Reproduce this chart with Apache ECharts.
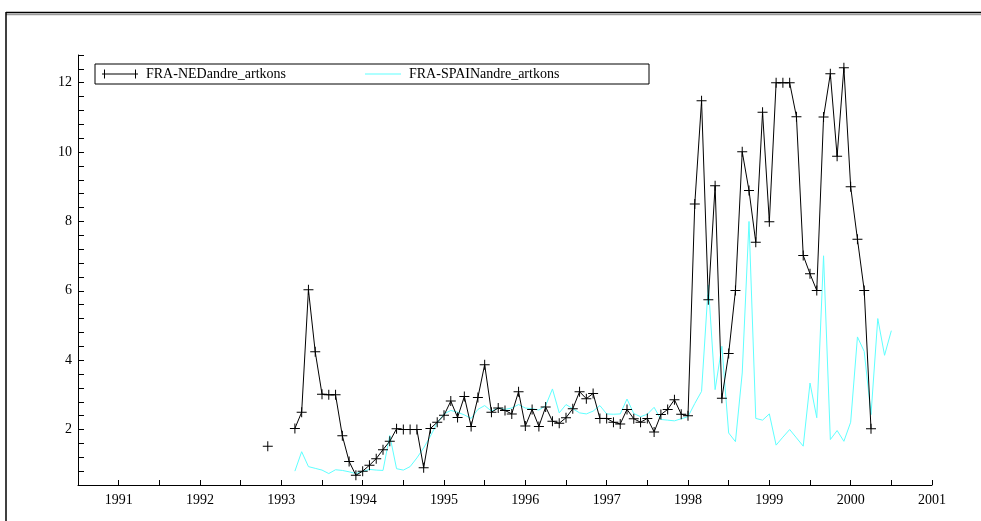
<!DOCTYPE html>
<html>
<head>
<meta charset="utf-8">
<script src="https://cdn.jsdelivr.net/npm/echarts@6/dist/echarts.min.js"></script>
<style>
html,body{margin:0;padding:0;background:#fff;}
#chart{width:981px;height:521px;}
</style>
</head>
<body>
<div id="chart"></div>
<script>
// Series names
const seriesNames = ['FRA-NEDandre_artkons', 'FRA-SPAINandre_artkons'];
// Monthly data: start [year, month]
const nedStart = [1992, 11];
const nedValues = [1.52, null, null, null, 2.03, 2.5, 6.03, 4.24, 3.02, 3.0, 3.0, 1.82, 1.08, 0.68,
  0.8, 0.97, 1.16, 1.42, 1.66, 2.02, 2.0, 2.0, 2.0, 0.9, 2.03, 2.21,
  2.41, 2.82, 2.35, 2.95, 2.09, 2.92, 3.87, 2.5, 2.62, 2.55, 2.45, 3.09,
  2.1, 2.58, 2.09, 2.65, 2.24, 2.18, 2.34, 2.6, 3.09, 2.89, 3.04, 2.32,
  2.32, 2.21, 2.16, 2.58, 2.31, 2.21, 2.32, 1.93, 2.43, 2.58, 2.86, 2.44,
  2.4, 8.5, 11.48, 5.74, 9.03, 2.9, 4.19, 6.01, 10.01, 8.89, 7.4, 11.15,
  7.99, 12.0, 12.0, 12.0, 11.02, 7.02, 6.49, 6.01, 11.01, 12.26, 9.88, 12.43,
  9.0, 7.49, 6.01, 2.02];
const spaStart = [1993, 3];
const spaValues = [0.8, 1.36, 0.93, 0.88, 0.83, 0.73, 0.84, 0.82, 0.78, 0.73,
  0.79, 0.85, 0.83, 0.82, 1.83, 0.87, 0.83, 0.93, 1.18, 1.47, 1.81, 2.19,
  2.45, 2.55, 2.5, 2.42, 2.32, 2.58, 2.69, 2.53, 2.62, 2.58, 2.62, 2.72,
  2.62, 2.6, 2.56, 2.69, 3.17, 2.48, 2.72, 2.6, 2.48, 2.45, 2.53, 2.69,
  2.45, 2.44, 2.45, 2.88, 2.46, 2.37, 2.44, 2.64, 2.29, 2.27, 2.25, 2.31,
  2.37, 2.75, 3.1, 6.17, 3.15, 4.4, 1.9, 1.65, 3.63, 8.0, 2.32, 2.27,
  2.45, 1.55, 1.78, 2.0, 1.76, 1.52, 3.34, 2.34, 7.01, 1.71, 1.97, 1.66,
  2.21, 4.67, 4.25, 2.43, 5.2, 4.14, 4.85];
// Axis ranges
const xMin = 1990.5, xMax = 2001, xStep = 0.5;
const yMin = 0.4, yMax = 12.8, yStep = 0.4, yLabelEvery = 2;

function toPairs(start, vals) {
  return vals.map((v, i) => {
    const m = start[1] - 1 + i;
    const yr = start[0] + Math.floor(m / 12) + (m % 12) / 12;
    return [yr, v];
  });
}

const font = '"Liberation Serif", "Times New Roman", serif';
const cyan = '#5fffff';
const crossPath = 'path://M0,4.5h10v1h-10z M4.5,0h1v10h-1z';
const legendCross = 'path://M0,4h36v1h-36z M2,0h1v9h-1z M33,0h1v9h-1z';
const legendLine = 'path://M0,0h36v1.2h-36z';

const chart = echarts.init(document.getElementById('chart'), null, {renderer: 'canvas'});
chart.setOption({
  backgroundColor: '#fff',
  animation: false,
  textStyle: {fontFamily: font},
  grid: {left: 78, right: 49, top: 55, bottom: 36, containLabel: false},
  legend: {
    left: 95, top: 64,
    orient: 'horizontal',
    borderColor: '#000', borderWidth: 1,
    padding: [3, 31, 3, 7],
    itemWidth: 36, itemHeight: 9, itemGap: 10,
    textStyle: {fontFamily: font, fontSize: 14, color: '#000', width: 209, lineHeight: 14, padding: [0, 0, 0, 3]},
    data: [
      {name: seriesNames[0], icon: legendCross, itemStyle: {color: '#000'}},
      {name: seriesNames[1], icon: legendLine, itemStyle: {color: cyan}}
    ]
  },
  xAxis: {
    type: 'value', min: xMin, max: xMax, interval: xStep,
    axisLine: {show: true, lineStyle: {color: '#000', width: 1}},
    axisTick: {show: true, inside: true, length: 5, lineStyle: {color: '#000'}},
    splitLine: {show: false},
    axisLabel: {
      color: '#000', fontFamily: font, fontSize: 14, margin: 8,
      formatter: v => Math.abs(v - Math.round(v)) < 1e-6 ? String(Math.round(v)) : ''
    }
  },
  yAxis: {
    type: 'value', min: yMin, max: yMax, interval: yStep,
    axisLine: {show: true, lineStyle: {color: '#000', width: 1}},
    axisTick: {show: true, inside: true, length: 6, lineStyle: {color: '#000'}},
    splitLine: {show: false},
    axisLabel: {
      color: '#000', fontFamily: font, fontSize: 14, margin: 6,
      formatter: v => Math.abs(v / yLabelEvery - Math.round(v / yLabelEvery)) < 1e-6 ? String(Math.round(v)) : ''
    }
  },
  series: [
    {
      name: seriesNames[0], type: 'line',
      data: toPairs(nedStart, nedValues),
      connectNulls: false,
      symbol: crossPath, symbolSize: [10, 10],
      showSymbol: true, showAllSymbol: true,
      itemStyle: {color: '#000'},
      lineStyle: {color: '#000', width: 1},
      z: 3
    },
    {
      name: seriesNames[1], type: 'line',
      data: toPairs(spaStart, spaValues),
      symbol: 'none', showSymbol: false,
      itemStyle: {color: cyan},
      lineStyle: {color: cyan, width: 1},
      z: 2
    }
  ],
  graphic: [
    {type: 'line', shape: {x1: 6, y1: 12.5, x2: 981, y2: 12.5}, style: {stroke: '#000', lineWidth: 1.5}, silent: true},
    {type: 'line', shape: {x1: 6, y1: 14.5, x2: 981, y2: 14.5}, style: {stroke: '#999', lineWidth: 1.5}, silent: true},
    {type: 'line', shape: {x1: 6, y1: 12, x2: 6, y2: 521}, style: {stroke: '#000', lineWidth: 1.5}, silent: true}
  ]
});
</script>
</body>
</html>
